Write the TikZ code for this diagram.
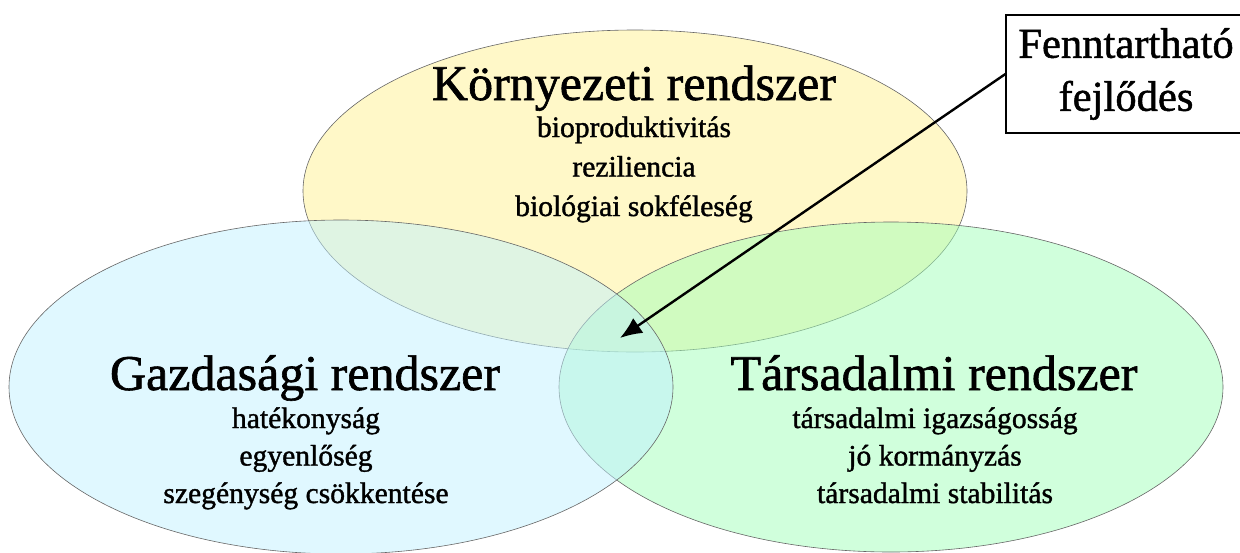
\documentclass[tikz,border=0pt]{standalone}
\usepackage{fontspec}
\setmainfont{Liberation Serif}[FakeBold=1.2]
\usetikzlibrary{shapes.geometric,arrows.meta}
\definecolor{kornyezet}{RGB}{255,241,145}
\definecolor{gazdasag}{RGB}{193,241,255}
\definecolor{tarsadalom}{RGB}{161,255,185}
\tikzstyle{kor}=[ellipse,draw=black!60,line width=0.6pt,fill opacity=0.5,inner sep=0pt,minimum width=664pt]
\tikzstyle{cim}=[anchor=base,inner sep=0pt,font=\fontsize{50}{60}\selectfont]
\tikzstyle{elem}=[anchor=base,inner sep=0pt,font=\fontsize{29.6}{36}\selectfont]
\tikzstyle{doboz}=[draw,line width=1.2pt,align=center,inner sep=0pt,minimum width=240pt,minimum height=118pt,font=\fontsize{42.6}{53}\selectfont]
\begin{document}
\begin{tikzpicture}[x=1pt,y=-1pt,>={Latex[length=22pt,width=18pt]}]
  \useasboundingbox (0,0) rectangle (1240,552);
  % a harom rendszer
  \node[kor,fill=kornyezet,minimum height=322pt] (K) at (635,191) {};
  \node[kor,fill=tarsadalom,minimum height=330pt] (T) at (891,387) {};
  \node[kor,fill=gazdasag,minimum height=334pt] (G) at (341,387) {};
  \node[cim] (K-cim) at (634,100) {Környezeti rendszer};
  \node[cim] (G-cim) at (305,390) {Gazdasági rendszer};
  \node[cim] (T-cim) at (934,390) {Társadalmi rendszer};
  \foreach \i/\szoveg in {1/bioproduktivitás, 2/reziliencia, 3/biológiai sokféleség}
    \node[elem] (K-\i) at (634,{97.5+39.5*\i}) {\szoveg};
  \foreach \i/\szoveg in {1/hatékonyság, 2/egyenlőség, 3/szegénység csökkentése}
    \node[elem] (G-\i) at (306,{390.5+37.5*\i}) {\szoveg};
  \foreach \i/\szoveg in {1/társadalmi igazságosság, 2/jó kormányzás, 3/társadalmi stabilitás}
    \node[elem] (T-\i) at (935,{390.5+37.5*\i}) {\szoveg};
  % fenntarthato fejlodes
  \node[doboz] (fenn) at (1126,74) {Fenntartható\\fejlődés};
  \coordinate (hegy) at (620,338);
  \draw[->,line width=2.4pt] (fenn.west) -- (hegy);
\end{tikzpicture}
\end{document}
